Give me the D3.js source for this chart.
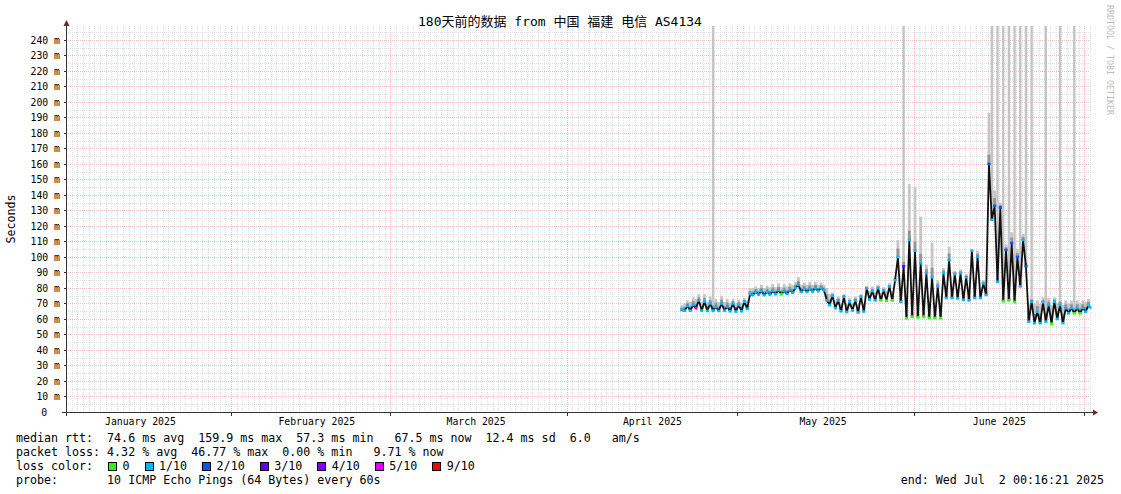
<!DOCTYPE html>
<html><head><meta charset="utf-8">
<script src="https://cdn.jsdelivr.net/npm/d3@7"></script>
<style>
html,body{margin:0;padding:0;background:#fff;}
svg{display:block;}
text{font-family:"DejaVu Sans Mono","Noto Sans CJK SC",monospace;fill:#000;}
</style></head><body>
<svg id="c" width="1121" height="494"></svg>
<script>
// ---------------- DATA ----------------
const title = "180天前的数据 from 中国 福建 电信 AS4134";
const yAxisTitle = "Seconds";
const endTime = "2025-07-02T00:16:21Z";
const rangeDays = 180;
const firstStep = "2025-04-21T00:00:00Z";   // first 12h consolidated step with data
const stepHours = 12;

// median RTT per 12h step (ms)
const medianMs = [
  65.8,65.4,68.4,65.4,69.0,67.0,72.0,65.4,71.2,65.2,
  70.0,65.4,67.7,65.2,70.0,65.4,68.0,65.0,70.0,64.8,
  69.0,65.0,71.2,66.5,76.0,75.5,77.5,75.8,78.0,75.5,
  77.5,75.8,78.0,76.0,78.5,76.0,78.0,76.2,78.5,77.0,
  80.0,82.0,77.5,79.5,77.5,79.5,77.8,80.0,78.0,80.0,
  78.5,72.0,69.0,75.0,67.0,72.0,65.0,74.4,64.5,71.0,
  65.5,72.0,64.2,74.4,64.8,79.8,72.5,78.0,72.0,80.0,
  72.0,78.5,71.8,81.0,72.0,85.0,100.0,71.0,94.0,60.5,
  111.0,61.5,104.0,61.0,96.0,61.5,89.6,60.6,87.0,60.6,
  81.0,60.6,89.6,73.5,98.0,73.5,89.0,73.3,89.6,72.3,
  87.0,72.0,104.0,73.5,100.2,73.5,83.0,75.5,160.0,124.0,
  133.0,84.0,132.0,71.5,104.5,72.0,109.0,71.0,100.0,81.0,
  111.0,94.0,58.3,71.2,57.3,64.7,57.3,70.7,58.3,69.0,
  57.0,71.2,60.0,69.0,57.3,67.0,63.7,67.0,63.7,67.0,
  63.7,67.0,64.7,69.0,67.5
];
// top of the smoke (slowest ping) per step (ms)
const smokeMaxMs = [
  69,70,72,71,74,73,76,71,76,71,
  74.5,72,73,71,75,71,73,70.5,73,70,
  72.5,70.5,73.5,72,80,80,81,80,82,80,
  81.5,80.5,82.5,80.5,83,80.5,82.5,81,83,82,
  84,87,82,83.5,82,84,82,84,82,83.5,
  82,80,76,77,72,74.5,70,76,70,73.5,
  70,74.5,69.5,76,70,81.5,78,81,77.5,82,
  77,80.5,78,83,78,87,111,76,100,66,
  147,67,145,67,126,67,95,66,109,66,
  85,66,93,78,106.6,78,91,78,92,77,
  89,77,105,78,104,78,85,80,193,140,
  143,90,135,76,108,76,116,76,105,86,
  115,98,70,74,70,72,70,74,70,73.5,
  69,74,70,73.5,69,72,70,72,70,72,
  70,72,71,73,72
];
// packet loss per step (tenths)
const lossTenths = [
  1,1,1,1,1,5,1,1,1,1, 1,1,1,1,1,1,1,1,1,1, 1,1,1,1,1,1,1,1,1,1,
  1,1,1,1,1,0,1,1,1,1, 1,1,1,1,1,1,1,1,1,1, 1,1,1,1,1,1,1,1,1,1,
  1,1,1,1,1,1,1,1,1,1, 0,1,0,1,0,1,1,1,3,0, 1,0,1,0,1,0,1,0,1,0,
  1,0,1,1,1,1,1,1,1,1, 1,1,1,1,1,1,1,1,2,1, 2,1,2,0,2,0,2,0,2,1,
  1,2,1,1,1,1,1,1,1,1, 0,1,1,1,1,1,1,1,0,1, 0,1,1,1,1
];
// steps where some pings exceeded the top of the graph
const overflowSteps = [11,78,109,111,113,115,117,119,121,123,128,133,138];

const yTicks = [0,10,20,30,40,50,60,70,80,90,100,110,120,130,140,150,160,170,180,190,200,210,220,230,240];
const monthLabelDates = ["2025-01-16","2025-02-16","2025-03-16","2025-04-16","2025-05-16","2025-06-16"];
const lossLevels = [
  {label:"0",    color:"#26ff00"},
  {label:"1/10", color:"#00b8ff"},
  {label:"2/10", color:"#0059ff"},
  {label:"3/10", color:"#5e00ff"},
  {label:"4/10", color:"#7e00ff"},
  {label:"5/10", color:"#dd00ff"},
  {label:"9/10", color:"#ff0000"}
];
const statLines = [
  "median rtt:  74.6 ms avg  159.9 ms max  57.3 ms min   67.5 ms now  12.4 ms sd  6.0   am/s",
  "packet loss: 4.32 % avg  46.77 % max  0.00 % min   9.71 % now",
  "loss color:",
  "probe:       10 ICMP Echo Pings (64 Bytes) every 60s"
];
const endLabel = "end: Wed Jul  2 00:16:21 2025";
const watermark = "RRDTOOL / TOBI OETIKER";

// ---------------- DRAW ----------------
const svg = d3.select("#c");
const L = 66, R = 1090, B = 412, T = 26;
const legendFont = 11.65, cw = legendFont * 0.6021, axisFont = 9.8;
const end = new Date(endTime);
const start = new Date(+end - rangeDays * 864e5);
const x = d3.scaleUtc().domain([start, end]).range([L, R]);
const y = d3.scaleLinear().domain([0, 249]).range([B, T]);
const px = v => Math.round(v) + 0.5;

function lossColor(l){
  if (l >= 9) return lossLevels[6].color;
  if (l >= 5) return lossLevels[5].color;
  return lossLevels[l].color;
}

// grid
const grid = svg.append("g").attr("shape-rendering","crispEdges");
const minorY = d3.range(5, 249, 5).filter(v => v % 10 !== 0);
const minorCol = "#dfdfdf", majorCol = "#f7bdbd";
grid.selectAll(".mh").data(minorY).join("line")
  .attr("x1", L).attr("x2", R).attr("y1", d => px(y(d))).attr("y2", d => px(y(d)))
  .attr("stroke", minorCol).attr("stroke-dasharray", "1,1");
grid.selectAll(".mv").data(d3.utcDay.range(d3.utcDay.ceil(start), end)).join("line")
  .attr("x1", d => px(x(d))).attr("x2", d => px(x(d))).attr("y1", T).attr("y2", B)
  .attr("stroke", minorCol).attr("stroke-dasharray", "1,1");
grid.selectAll(".Mh").data(yTicks.filter(v => v > 0)).join("line")
  .attr("x1", L).attr("x2", R).attr("y1", d => px(y(d))).attr("y2", d => px(y(d)))
  .attr("stroke", majorCol).attr("stroke-dasharray", "1,1");
grid.selectAll(".Mv").data(d3.utcMonth.range(d3.utcMonth.ceil(start), end)).join("line")
  .attr("x1", d => px(x(d))).attr("x2", d => px(x(d))).attr("y1", T).attr("y2", B)
  .attr("stroke", majorCol).attr("stroke-dasharray", "1,1");

// data steps
const t0 = new Date(firstStep);
const stepMs = stepHours * 3600e3;
const steps = medianMs.map((m, i) => ({
  t: new Date(+t0 + i * stepMs),
  t1: new Date(Math.min(+t0 + (i + 1) * stepMs, +end)),
  med: m, hi: smokeMaxMs[i], loss: lossTenths[i], over: overflowSteps.includes(i)
}));
const mid = d => new Date((+d.t + +d.t1) / 2);

const data = svg.append("g");
// overflow columns
data.selectAll(".ov").data(steps.filter(d => d.over)).join("rect")
  .attr("x", d => x(mid(d)) - 1.2).attr("width", 2.4)
  .attr("y", y(249)).attr("height", d => y(d.hi) - y(249))
  .attr("fill", "#c4c4c4");
// outer smoke
data.selectAll(".so").data(steps).join("rect")
  .attr("x", d => x(d.t)).attr("width", d => x(d.t1) - x(d.t))
  .attr("y", d => y(d.hi)).attr("height", d => y(d.med) - y(d.hi))
  .attr("fill", "#c6c6c6");
// inner smoke
const inner = d => d.med + Math.min((d.hi - d.med) * 0.5, 6);
data.selectAll(".si").data(steps).join("rect")
  .attr("x", d => x(d.t)).attr("width", d => x(d.t1) - x(d.t))
  .attr("y", d => y(inner(d))).attr("height", d => y(d.med) - y(inner(d)))
  .attr("fill", "#949494");
// black median line
data.append("path").datum(steps)
  .attr("d", d3.line().x(d => x(mid(d))).y(d => y(d.med)))
  .attr("fill", "none").attr("stroke", "#111").attr("stroke-width", 1.8)
  .attr("stroke-linejoin", "miter").attr("stroke-miterlimit", 2);
// loss-coloured median marks
data.selectAll(".md").data(steps).join("rect")
  .attr("x", d => x(mid(d)) - 1.6).attr("width", 3.2)
  .attr("y", d => y(d.med) - 1.3).attr("height", 2.6)
  .attr("fill", d => lossColor(d.loss));

// axes
const axisColor = "#333";
const yAxis = svg.append("g").attr("transform", `translate(${px(L)},0)`)
  .call(d3.axisLeft(y).tickValues(yTicks).tickSize(3).tickPadding(3.5)
    .tickFormat(d => d === 0 ? "0" : d + " m"));
yAxis.select(".domain").remove();
yAxis.selectAll(".tick line").attr("stroke", axisColor).attr("shape-rendering","crispEdges");
yAxis.selectAll("text").attr("font-size", axisFont).attr("font-family", "DejaVu Sans Mono")
  .attr("dx", d => d === 0 ? -2 * axisFont * 0.6021 - 1 : 0);

const xTicks = svg.append("g").attr("transform", `translate(0,${px(B)})`)
  .call(d3.axisBottom(x).tickValues(d3.utcMonth.range(d3.utcMonth.ceil(start), end)).tickSize(3).tickFormat(""));
xTicks.select(".domain").remove();
xTicks.selectAll(".tick line").attr("stroke", axisColor).attr("shape-rendering","crispEdges");
const xLab = svg.append("g").attr("transform", `translate(0,${px(B)})`)
  .call(d3.axisBottom(x).tickValues(monthLabelDates.map(s => new Date(s + "T00:00:00Z"))).tickSize(0).tickPadding(6)
    .tickFormat(d3.utcFormat("%B %Y")));
xLab.select(".domain").remove();
xLab.selectAll("text").attr("font-size", axisFont).attr("font-family", "DejaVu Sans Mono");

svg.append("line").attr("x1", px(L)).attr("x2", px(L)).attr("y1", 25).attr("y2", 416)
  .attr("stroke", axisColor).attr("shape-rendering","crispEdges");
svg.append("line").attr("x1", 62).attr("x2", 1094).attr("y1", px(B)).attr("y2", px(B))
  .attr("stroke", axisColor).attr("shape-rendering","crispEdges");
svg.append("path").attr("d", `M${px(L)},20 L${px(L)-3},26 L${px(L)+3},26 Z`).attr("fill", "#7f1f1f");
svg.append("path").attr("d", `M1098,${px(B)} L1093,${px(B)-3} L1093,${px(B)+3} Z`).attr("fill", "#7f1f1f");

// titles
svg.append("text").attr("x", 560).attr("y", 26).attr("text-anchor", "middle")
  .attr("font-size", 13).text(title);
svg.append("text").attr("transform", "translate(15,219) rotate(-90)").attr("text-anchor", "middle")
  .attr("font-size", legendFont).text(yAxisTitle);
svg.append("text").attr("transform", "translate(1107,5) rotate(90)")
  .attr("font-size", 8.3).style("fill", "#bdbdbd").text(watermark);

// legend
const lineY = [442, 455.7, 469.6, 483.5];
svg.selectAll(".st").data(statLines).join("text")
  .attr("x", 16).attr("y", (d, i) => lineY[i]).attr("font-size", legendFont)
  .style("white-space", "pre").text(d => d);
let col = 13.15;
lossLevels.forEach(lv => {
  const bx = 16 + col * cw;
  svg.append("rect").attr("x", Math.round(bx) + 0.5).attr("y", 462.5).attr("width", 8).attr("height", 8)
    .attr("fill", lv.color).attr("stroke", "#000").attr("shape-rendering","crispEdges");
  svg.append("text").attr("x", 16 + (col + 2.05) * cw).attr("y", lineY[2])
    .attr("font-size", legendFont).text(lv.label);
  col += 2.05 + lv.label.length + 2.15;
});
svg.append("text").attr("x", 1104).attr("y", lineY[3]).attr("text-anchor", "end")
  .attr("font-size", legendFont).style("white-space", "pre").text(endLabel);
</script>
</body></html>
